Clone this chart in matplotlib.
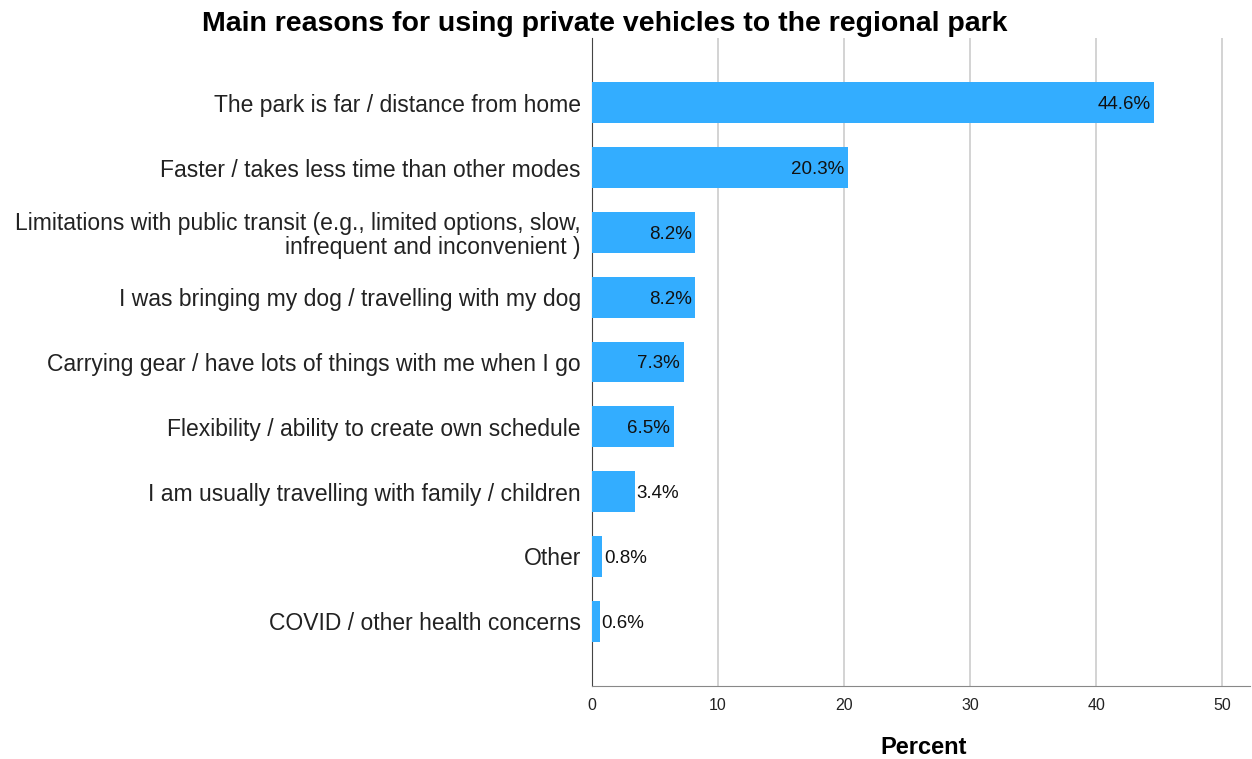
import matplotlib.pyplot as plt

plt.rcParams['font.family'] = ['Liberation Sans', 'DejaVu Sans']

reasons = [
    "The park is far / distance from home",
    "Faster / takes less time than other modes",
    "Limitations with public transit (e.g., limited options, slow,\ninfrequent and inconvenient )",
    "I was bringing my dog / travelling with my dog",
    "Carrying gear / have lots of things with me when I go",
    "Flexibility / ability to create own schedule",
    "I am usually travelling with family / children",
    "Other",
    "COVID / other health concerns",
]
percent = [44.6, 20.3, 8.2, 8.2, 7.3, 6.5, 3.4, 0.8, 0.6]
x_ticks = [0, 10, 20, 30, 40, 50]

fig = plt.figure(figsize=(12.52, 7.59), dpi=100)
ax = fig.add_axes([0.4728, 0.0962, 0.5256, 0.8538])

pos = list(range(len(reasons)))
ax.barh(pos, percent, height=0.63, color='#33adff', zorder=3)

# value labels: inside the bar end for long bars, just past it for short ones
for y, v in zip(pos, percent):
    if v >= 5:
        ax.text(v - 0.3, y, f"{v:.1f}%", ha='right', va='center_baseline', fontsize=13.5, color='#111111', zorder=4)
    else:
        ax.text(v + 0.15, y, f"{v:.1f}%", ha='left', va='center_baseline', fontsize=13.5, color='#111111', zorder=4)

ax.set_ylim(len(reasons), -1)
ax.set_xlim(0, 52.2)
ax.set_yticks(pos)
ax.set_yticklabels(reasons, fontsize=16.5, color='#222222', linespacing=1.05, va='center_baseline')
ax.set_xticks(x_ticks)
ax.set_xticklabels([str(t) for t in x_ticks], fontsize=11.5, color='#222222')
ax.tick_params(axis='y', length=0, pad=8)
ax.tick_params(axis='x', length=0, pad=9)

ax.grid(axis='x', color='#d0d0d0', linewidth=1.3, zorder=0)
ax.spines['top'].set_visible(False)
ax.spines['right'].set_visible(False)
ax.spines['left'].set_color('#444444')
ax.spines['bottom'].set_color('#888888')

fig.text(605 / 1252, 1 - 24 / 759, "Main reasons for using private vehicles to the regional park",
         ha='center', va='center', fontsize=20.5, fontweight='bold')
fig.text(924 / 1252, 1 - 747 / 759, "Percent", ha='center', va='center', fontsize=17, fontweight='bold')

fig.savefig('out.png', dpi=100)
